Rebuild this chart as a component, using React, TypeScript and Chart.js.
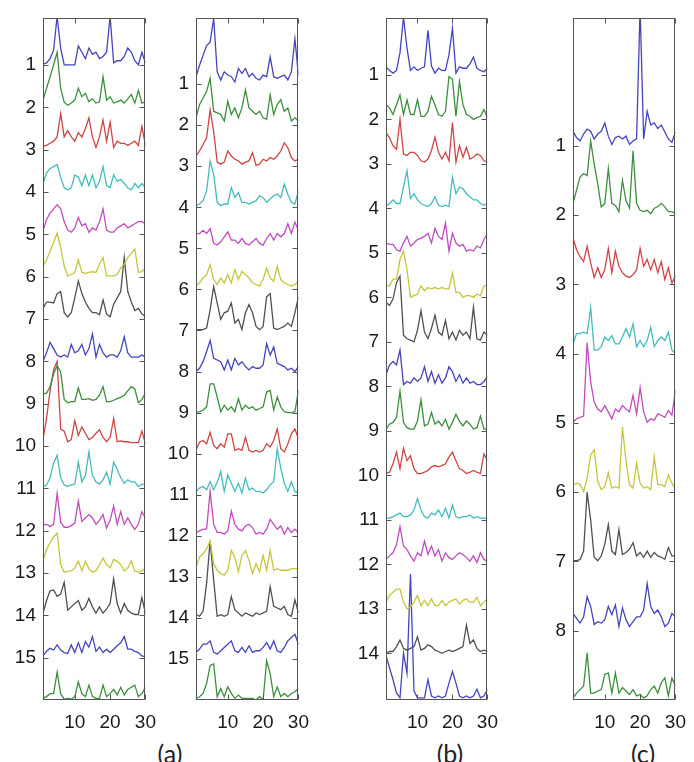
import React, { useEffect, useRef } from "react";
import { Chart, registerables } from "chart.js";

Chart.register(...registerables);

// ---------- data ----------
const xValues = [1, 2, 3, 4, 5, 6, 7, 8, 9, 10, 11, 12, 13, 14, 15, 16, 17, 18, 19, 20, 21, 22, 23, 24, 25, 26, 27, 28, 29, 30];
const xTickValues = [10, 20, 30];
const yTicksA = [1, 2, 3, 4, 5, 6, 7, 8, 9, 10, 11, 12, 13, 14, 15];
const yTicksB = [1, 2, 3, 4, 5, 6, 7, 8, 9, 10, 11, 12, 13, 14, 15];
const yTicksC = [1, 2, 3, 4, 5, 6, 7, 8, 9, 10, 11, 12, 13, 14];
const yTicksD = [1, 2, 3, 4, 5, 6, 7, 8];
const captions = ["(a)", "(b)", "(c)"];
const traceColors = ["#4545c0", "#3d8f3d", "#cf4545", "#45bcbc", "#c04cc0", "#c6c63c", "#505050"];

// amplitudes above each trace's baseline (baseline = row number)
const ampA: number[][] = [
  [0.02, 0.05, 0.15, 0.35, 1.15, 0.4, 0, 0, 0, 0, 0.45, 0.3, 0.15, 0.4, 0.25, 0.3, 0.15, 0.2, 0.3, 1.15, 0.05, 0.1, 0.1, 0.2, 0.4, 0.3, 0.1, 0, 0.3, 0.05],
  [0.17, 0.45, 0.72, 1.0, 1.3, 0.45, 0.12, 0.05, 0.1, 0.17, 0.45, 0.25, 0.33, 0.13, 0.2, 0.1, 0.13, 0.72, 0.17, 0.25, 0.1, 0.13, 0.17, 0.1, 0.2, 0.3, 0.1, 0.4, 0.1, 0.13],
  [0.08, 0.1, 0.15, 0.2, 0.3, 0.85, 0.3, 0.45, 0.3, 0.2, 0.4, 0.3, 0.5, 0.75, 0.3, 0.05, 0.3, 0.7, 0.2, 0.65, 0.05, 0.2, 0.15, 0.15, 0.1, 0.15, 0.2, 0.1, 0.55, 0.1],
  [0.2, 0.45, 0.55, 0.6, 0.65, 0.35, 0.1, 0.05, 0.1, 0.4, 0.35, 0.15, 0.4, 0.15, 0.4, 0.1, 0.25, 0.6, 0.15, 0.1, 0.4, 0.25, 0.3, 0.2, 0.1, 0.05, 0.2, 0.1, 0.2, 0.1],
  [0.08, 0.35, 0.5, 0.6, 0.7, 0.6, 0.3, 0.1, 0.05, 0.15, 0.4, 0.2, 0.25, 0.05, 0.15, 0.1, 0.3, 0.6, 0.1, 0.05, 0.05, 0.15, 0.2, 0.25, 0.15, 0.2, 0.25, 0.3, 0.3, 0.25],
  [0.25, 0.4, 0.6, 0.8, 1.03, 0.7, 0.25, 0.02, 0.05, 0.1, 0.4, 0.1, 0.08, 0.1, 0.12, 0.1, 0.3, 0.45, 0.02, 0.02, 0.02, 0.05, 0.2, 0.3, 0.45, 0.55, 0.65, 0.1, 0.12, 0.2],
  [0.25, 0.4, 0.4, 0.38, 0.6, 0.65, 0.15, 0.05, 0.15, 0.5, 0.9, 0.6, 0.4, 0.25, 0.15, 0.15, 0.1, 0.45, 0.12, 0.05, 0.35, 0.5, 0.65, 1.45, 0.65, 0.4, 0.2, 0.25, 0.12, 0.05],
  [0, 0.2, 0.45, 0.3, 0.15, 0.1, 0.15, 0.1, 0.4, 0.2, 0.25, 0.4, 0.15, 0.3, 0.65, 0.1, 0.4, 0.2, 0.1, 0.15, 0.15, 0.1, 0.25, 0.58, 0.2, 0.1, 0.1, 0.1, 0.15, 0.1],
  [0.23, 0.25, 0.4, 0.7, 0.9, 0.75, 0.1, 0.02, 0.05, 0.05, 0.37, 0.1, 0.1, 0.12, 0.08, 0.1, 0.2, 0.4, 0.05, 0.05, 0.08, 0.12, 0.15, 0.2, 0.3, 0.4, 0.35, 0.02, 0.1, 0.25],
  [0.15, 0.65, 1.3, 1.8, 2.0, 0.4, 0.35, 0.1, 0.15, 0.6, 0.25, 0.45, 0.3, 0.15, 0.2, 0.3, 0.38, 0.2, 0.1, 0.2, 0.65, 0.1, 0.12, 0.1, 0.1, 0.08, 0.08, 0.08, 0.35, 0.05],
  [0.04, 0.08, 0.25, 0.6, 0.78, 0.25, 0.08, 0.04, 0.08, 0.1, 0.62, 0.15, 0.3, 0.86, 0.3, 0.15, 0.1, 0.2, 0.38, 0.1, 0.62, 0.45, 0.25, 0.12, 0.2, 0.15, 0.15, 0.04, 0.1, 0.08],
  [0.14, 0.15, 0.1, 0.15, 0.88, 0.2, 0.08, 0.08, 0.12, 0.18, 0.7, 0.22, 0.3, 0.38, 0.3, 0.15, 0.25, 0.38, 0.06, 0.25, 0.58, 0.15, 0.45, 0.15, 0.3, 0.15, 0.03, 0.15, 0.45, 0.3],
  [0.3, 0.55, 0.72, 0.85, 0.94, 0.2, 0.02, 0.04, 0.05, 0.12, 0.28, 0.05, 0.28, 0.1, 0.02, 0.05, 0.2, 0.35, 0.2, 0.12, 0.32, 0.28, 0.2, 0.05, 0.12, 0.28, 0.04, 0.02, 0.05, 0.12],
  [0.05, 0.35, 0.58, 0.6, 0.45, 0.5, 0.78, 0.12, 0.2, 0.28, 0.35, 0.12, 0.2, 0.4, 0.2, 0.05, 0.2, 0.05, 0.15, 0.28, 0.86, 0.28, 0.05, 0.28, 0.12, 0.05, 0.02, 0.02, 0.42, 0.05],
  [0.04, 0.15, 0.22, 0.18, 0.3, 0.18, 0.12, 0.1, 0.3, 0.12, 0.35, 0.12, 0.38, 0.25, 0.5, 0.15, 0.25, 0.12, 0.2, 0.12, 0.2, 0.28, 0.35, 0.5, 0.2, 0.2, 0.15, 0.12, 0.04, 0.02],
  [0.04, 0.08, 0.15, 0.15, 0.66, 0.15, 0.02, 0.04, 0.02, 0.08, 0.43, 0.15, 0.08, 0.35, 0.08, 0.04, 0.04, 0.35, 0.08, 0.15, 0.25, 0.12, 0.3, 0.12, 0.25, 0.3, 0.35, 0.08, 0.15, 0.3],
];

const ampB: number[][] = [
  [0.18, 0.46, 0.7, 0.94, 1.02, 1.6, 0.3, 0.1, 0.3, 0.22, 0.18, 0.05, 0.38, 0.26, 0.38, 0.18, 0.26, 0.14, 0.1, 0.22, 0.18, 0.66, 0.18, 0.14, 0.18, 0.22, 0.1, 0.3, 1.1, 0.22],
  [0.18, 0.5, 0.66, 0.82, 1.14, 0.34, 0.3, 0.26, 0.1, 0.58, 0.26, 0.42, 0.18, 0.42, 0.86, 0.42, 0.34, 0.26, 0.34, 0.18, 0.14, 0.74, 0.26, 0.5, 0.62, 0.34, 0.42, 0.1, 0.18, 0.1],
  [0.25, 0.37, 0.53, 0.69, 1.37, 0.85, 0.1, 0.05, 0.1, 0.37, 0.25, 0.17, 0.13, 0.05, 0.1, 0.13, 0.33, 0.02, 0.05, 0.17, 0.13, 0.21, 0.17, 0.25, 0.37, 0.57, 0.45, 0.21, 0.13, 0.17],
  [0.04, 0.08, 0.16, 0.4, 1.12, 0.8, 0.12, 0.04, 0.08, 0.08, 0.48, 0.24, 0.36, 0.12, 0.12, 0.08, 0.12, 0.16, 0.28, 0.24, 0.12, 0.2, 0.28, 0.32, 0.24, 0.56, 0.32, 0.12, 0.08, 0.4],
  [0.36, 0.36, 0.44, 0.36, 0.48, 0.12, 0.08, 0.16, 0.28, 0.4, 0.2, 0.2, 0.12, 0.24, 0.12, 0.08, 0.16, 0.24, 0.12, 0.08, 0.24, 0.36, 0.2, 0.36, 0.28, 0.36, 0.6, 0.36, 0.64, 0.44],
  [0.08, 0.16, 0.28, 0.36, 0.6, 0.24, 0.12, 0.28, 0.16, 0.36, 0.16, 0.48, 0.24, 0.44, 0.36, 0.28, 0.16, 0.12, 0.08, 0.24, 0.52, 0.28, 0.2, 0.56, 0.24, 0.16, 0.12, 0.08, 0.12, 0.2],
  [0.02, 0.02, 0.02, 0.06, 0.5, 1.07, 0.67, 0.27, 0.43, 0.47, 0.67, 0.18, 0.27, 0.02, 0.43, 0.63, 0.43, 0.1, 0.02, 0.1, 0.82, 0.9, 0.06, 0.02, 0.06, 0.1, 0.18, 0.1, 0.43, 0.82],
  [0, 0.08, 0.24, 0.48, 0.76, 0.32, 0.28, 0.24, 0.04, 0.28, 0.04, 0.32, 0.16, 0.24, 0.12, 0.04, 0.12, 0.08, 0.08, 0.16, 0.68, 0.4, 0.6, 0.2, 0.16, 0.12, 0.04, 0.08, 0, 0.12],
  [0, 0.02, 0.06, 0.14, 0.7, 0.7, 0.38, 0.02, 0.18, 0.06, 0.14, 0.02, 0.34, 0.06, 0.18, 0.1, 0.14, 0.06, 0.1, 0.14, 0.5, 0.54, 0.06, 0.38, 0.14, 0.02, 0, 0, 0.02, 0.54],
  [0.08, 0.28, 0.32, 0.24, 0.52, 0.2, 0.12, 0.24, 0.16, 0.48, 0.48, 0.08, 0.12, 0.08, 0.4, 0.08, 0.04, 0.08, 0.04, 0.08, 0.24, 0.16, 0.32, 0.6, 0.12, 0.04, 0.24, 0.48, 0.6, 0.36],
  [0.08, 0.16, 0.2, 0.12, 0.32, 0.12, 0.3, 0.56, 0.08, 0.48, 0.28, 0.08, 0.28, 0.04, 0.4, 0.12, 0.16, 0.08, 0.08, 0.04, 0.12, 0.24, 0.32, 1.12, 0.64, 0.28, 0.08, 0.32, 0.08, 0.04],
  [0.08, 0.12, 0.16, 0.16, 1.08, 0.28, 0.08, 0.08, 0.04, 0.12, 0.6, 0.28, 0.16, 0.12, 0.24, 0.28, 0.2, 0.04, 0.08, 0.04, 0.16, 0.4, 0.28, 0.16, 0.24, 0.04, 0.2, 0.08, 0.16, 0.08],
  [0.24, 0.48, 0.56, 0.68, 0.88, 0.32, 0.16, 0.08, 0.04, 0.16, 0.64, 0.48, 0.12, 0.52, 0.64, 0.4, 0.08, 0.32, 0.12, 0.52, 0.16, 0.64, 0.16, 0.2, 0.16, 0.16, 0.16, 0.2, 0.2, 0.2],
  [0.08, 0.04, 0.16, 0.84, 1.88, 0.92, 0.04, 0.08, 0.04, 0.08, 0.52, 0.2, 0.12, 0.04, 0.12, 0.08, 0.04, 0.12, 0.08, 0.12, 0.16, 0.76, 0.28, 0.24, 0.2, 0.28, 0.08, 0.04, 0.44, 0.12],
  [0.16, 0.24, 0.36, 0.36, 0.44, 0.16, 0.12, 0.2, 0.28, 0.36, 0.44, 0.2, 0.16, 0.28, 0.16, 0.32, 0.16, 0.2, 0.2, 0.28, 0.4, 0.24, 0.44, 0.2, 0.16, 0.28, 0.44, 0.52, 0.6, 0.36],
  [0.04, 0.08, 0.16, 0.4, 0.84, 0.88, 0.08, 0.28, 0.08, 0.32, 0.16, 0.04, 0.12, 0.04, 0.04, 0.04, 0.04, 0, 0.08, 0, 0.96, 0.64, 0.08, 0.32, 0.08, 0.16, 0.08, 0.16, 0.2, 0.28],
];

const ampC: number[][] = [
  [0.18, 0.1, 0.04, 0.1, 0.5, 1.3, 0.6, 0.1, 0.18, 0.1, 0.15, 0.18, 1.0, 0.2, 0.04, 0.15, 0.1, 0.1, 0.45, 1.05, 0.04, 0.18, 0.15, 0.15, 0.25, 0.4, 0.15, 0.1, 0.07, 0.15],
  [0.33, 0.26, 0.11, 0.33, 0.55, 0.11, 0.44, 0.11, 0.11, 0.44, 0.07, 0.07, 0.18, 0.52, 0.33, 0.11, 0.07, 0.18, 0.96, 0.9, 0.07, 0.85, 0.33, 0.11, 0.07, 0, 0.04, 0.07, 0.22, 0.04],
  [0.7, 0.59, 0.41, 0.33, 1.0, 0.22, 0.19, 0.26, 0.26, 0.19, 0.07, 0.04, 0.11, 0.3, 0.6, 0.26, 0.11, 0.26, 0.07, 0.93, 0.04, 0.41, 0.15, 0.37, 0.11, 0.15, 0.22, 0.19, 0.07, 0.04],
  [0.04, 0.11, 0.19, 0.11, 0.11, 0.48, 0.85, 0.22, 0.33, 0.19, 0.11, 0.07, 0.04, 0.11, 0.26, 0.07, 0.04, 0.07, 0.04, 0.7, 0.33, 0.48, 0.44, 0.33, 0.26, 0.19, 0.19, 0.11, 0.07, 0.11],
  [0.22, 0.19, 0.19, 0.07, 0.04, 0.22, 0.37, 0.15, 0.22, 0.3, 0.33, 0.37, 0.44, 0.22, 0.55, 0.37, 0.3, 0.67, 0.04, 0.44, 0.22, 0.15, 0.19, 0.04, 0.07, 0.04, 0.15, 0.11, 0.3, 0.44],
  [0.26, 0.26, 0.41, 0.41, 0.85, 1.04, 0.63, 0, 0.04, 0.07, 0.26, 0.15, 0.22, 0.19, 0.22, 0.19, 0.22, 0.19, 0.19, 0.55, 0.11, 0.11, 0, 0.04, 0.04, 0, 0.07, 0.04, 0.26, 0.26],
  [0.89, 0.82, 0.96, 1.33, 1.48, 0.15, 0.07, 0.04, 0, 0.26, 0.7, 0.22, 0.07, 0.3, 0.6, 0.22, 0.15, 0.48, 0.07, 0.22, 0.04, 0.26, 0.15, 0.22, 0.07, 0.78, 0.07, 0.04, 0.22, 0.15],
  [0.26, 0.48, 0.56, 0.48, 0.82, 0.04, 0.11, 0.07, 0.19, 0.11, 0.19, 0.44, 0.11, 0.33, 0.07, 0.26, 0.07, 0.19, 0.44, 0.33, 0.11, 0.26, 0.07, 0.19, 0.07, 0.11, 0.04, 0.04, 0.11, 0.22],
  [0.04, 0.15, 0.19, 0.3, 0.89, 0.19, 0.07, 0.04, 0.04, 0.22, 0.7, 0.11, 0.15, 0.41, 0.15, 0.22, 0.11, 0.26, 0.04, 0.19, 0.37, 0.22, 0.11, 0.22, 0.15, 0.04, 0.07, 0.33, 0.04, 0.04],
  [0.04, 0.07, 0.26, 0.52, 0.15, 0.61, 0.33, 0.44, 0.15, 0.04, 0.04, 0.07, 0.11, 0.19, 0.22, 0.19, 0.22, 0.26, 0.41, 0.52, 0.33, 0.15, 0.11, 0.04, 0.07, 0.11, 0.07, 0.04, 0.48, 0.33],
  [0.04, 0.04, 0.07, 0.11, 0.15, 0.07, 0.07, 0.11, 0.22, 0.48, 0.22, 0.07, 0.04, 0.15, 0.11, 0.22, 0.07, 0.26, 0.04, 0.33, 0.07, 0.04, 0.07, 0.07, 0.11, 0.04, 0.07, 0.04, 0.04, 0.04],
  [0.11, 0.19, 0.26, 0.44, 0.85, 0.41, 0.33, 0.19, 0.07, 0.26, 0.19, 0.52, 0.22, 0.41, 0.19, 0.33, 0.07, 0.26, 0.15, 0.11, 0.19, 0.26, 0.22, 0.15, 0.07, 0.19, 0.04, 0.26, 0.11, 0.07],
  [0.15, 0.3, 0.37, 0.44, 0.44, 0.15, 0, 0.04, 0.15, 0.3, 0.07, 0.19, 0.07, 0.22, 0.07, 0.07, 0.19, 0.07, 0.15, 0.19, 0.22, 0.11, 0.19, 0.22, 0.15, 0.15, 0.26, 0.07, 0.15, 0.22],
  [0, 0.04, 0.04, 0.15, 0.3, 0.11, 0.07, 0.11, 0.15, 0.37, 0.07, 0.11, 0.19, 0.15, 0.07, 0.04, 0, 0.04, 0.07, 0.04, 0.07, 0.11, 0.15, 0.63, 0.22, 0.3, 0.11, 0.04, 0.07, 0.04],
  [0.96, 0.67, 0.41, 0.11, 0, 1.0, 0.55, 2.78, 0.15, 0, 0, 0, 0.41, 0.04, 0, 0.04, 0, 0.04, 0.33, 0.59, 0.33, 0.04, 0, 0.04, 0, 0.04, 0.19, 0, 0.04, 0.19],
];

const ampD: number[][] = [
  [0.21, 0.12, 0.07, 0.17, 0.24, 0.21, 0.1, 0.17, 0.21, 0.33, 0.14, 0.02, 0.12, 0.14, 0.1, 0.14, 0.02, 0.07, 0.1, 2.0, 0.1, 0.5, 0.3, 0.33, 0.25, 0.3, 0.2, 0.1, 0.05, 0.2],
  [0.17, 0.36, 0.55, 0.6, 0.57, 1.07, 0.74, 0.45, 0.12, 0.17, 0.67, 0.17, 0.14, 0.05, 0.5, 0.21, 0.1, 0.93, 0.17, 0.07, 0.05, 0.07, 0.02, 0.1, 0.12, 0.17, 0.12, 0.05, 0.05, 0.02],
  [0.67, 0.5, 0.4, 0.33, 0.55, 0.31, 0.1, 0.24, 0.1, 0.21, 0.52, 0.17, 0.48, 0.26, 0.17, 0.12, 0.1, 0.14, 0.21, 0.52, 0.26, 0.36, 0.21, 0.36, 0.17, 0.33, 0.07, 0.24, 0.02, 0.12],
  [0.14, 0.29, 0.29, 0.31, 0.29, 0.67, 0.05, 0.05, 0.1, 0.24, 0.19, 0.26, 0.14, 0.14, 0.24, 0.36, 0.24, 0.43, 0.1, 0.19, 0.1, 0.19, 0.38, 0.1, 0.19, 0.24, 0.19, 0.31, 0.05, 0],
  [0.01, 0.06, 0.08, 0.1, 1.16, 0.59, 0.3, 0.2, 0.16, 0.25, 0.16, 0.06, 0.2, 0.16, 0.25, 0.2, 0.16, 0.4, 0.13, 0.51, 0.16, 0.01, 0.06, 0.04, 0.13, 0.11, 0.08, 0.18, 0.11, 0.47],
  [0.11, 0.13, 0.11, 0.01, 0.2, 0.54, 0.61, 0.16, 0.04, 0.08, 0.28, 0.06, 0.08, 0.06, 0.94, 0.45, 0.11, 0.06, 0.42, 0.13, 0.06, 0.08, 0.04, 0.51, 0.11, 0.11, 0.08, 0.25, 0.13, 0.04],
  [0.01, 0.01, 0.03, 0.15, 1.0, 0.6, 0.06, 0.01, 0.08, 0.25, 0.53, 0.15, 0.1, 0.46, 0.1, 0.13, 0.18, 0.27, 0.08, 0.13, 0.06, 0.15, 0.06, 0.13, 0.08, 0.06, 0.03, 0.2, 0.08, 0.08],
  [0.25, 0.18, 0.11, 0.2, 0.49, 0.35, 0.09, 0.13, 0.11, 0.16, 0.35, 0.23, 0.37, 0.06, 0.33, 0.16, 0.06, 0.13, 0.2, 0.2, 0.3, 0.68, 0.35, 0.25, 0.3, 0.2, 0.06, 0.11, 0.25, 0.2],
  [0.03, 0.1, 0.15, 0.2, 0.68, 0.1, 0.1, 0.13, 0.15, 0.37, 0.39, 0.1, 0.39, 0.1, 0.18, 0.13, 0.08, 0.15, 0.06, 0.08, 0.03, 0.06, 0.15, 0.2, 0.1, 0.25, 0.32, 0.06, 0.32, 0.2],
];

// ---------- layout ----------
const TICK_FONT = { family: "'Liberation Sans', Arial, sans-serif", size: 19 };
const Y_AXIS_W = 40;
const X_AXIS_H = 30;
const PAD_TOP = 13;
const PAD_RIGHT = 14;
const CANVAS_H = 730;

type PanelSpec = { left: number; right: number; yMin: number; yMax: number; rows: number[][]; ticks: number[] };

const panels: PanelSpec[] = [
  { left: 43, right: 153, yMin: -0.1, yMax: 16, rows: ampA, ticks: yTicksA },
  { left: 196, right: 306, yMin: -0.6, yMax: 16, rows: ampB, ticks: yTicksB },
  { left: 386, right: 495, yMin: -0.27, yMax: 15.05, rows: ampC, ticks: yTicksC },
  { left: 573, right: 683, yMin: -0.84, yMax: 9.0, rows: ampD, ticks: yTicksD },
];

const captionPos = [
  { x: 170, y: 753 },
  { x: 450, y: 753 },
  { x: 643, y: 753 },
];

const framePlugin = {
  id: "matlabFrame",
  afterDraw(chart: any) {
    const { ctx, chartArea, scales } = chart;
    const { left, right, top, bottom } = chartArea;
    const L = 5;
    ctx.save();
    ctx.strokeStyle = "#555";
    ctx.lineWidth = 1;
    const l = Math.round(left) + 0.5;
    const r = Math.round(right) - 0.5;
    const t = Math.round(top) + 0.5;
    const b = Math.round(bottom) - 0.5;
    ctx.strokeRect(l, t, r - l, b - t);
    ctx.beginPath();
    scales.y.ticks.forEach((tk: any) => {
      const y = Math.round(scales.y.getPixelForValue(tk.value)) + 0.5;
      ctx.moveTo(l, y);
      ctx.lineTo(l + L, y);
      ctx.moveTo(r, y);
      ctx.lineTo(r - L, y);
    });
    scales.x.ticks.forEach((tk: any) => {
      const x = Math.round(scales.x.getPixelForValue(tk.value)) + 0.5;
      ctx.moveTo(x, t);
      ctx.lineTo(x, t + L);
      ctx.moveTo(x, b);
      ctx.lineTo(x, b - L);
    });
    ctx.stroke();
    ctx.restore();
  },
};

function Panel({ spec }: { spec: PanelSpec }) {
  const ref = useRef<HTMLCanvasElement | null>(null);
  const width = spec.right - spec.left + Y_AXIS_W + PAD_RIGHT;
  useEffect(() => {
    if (!ref.current) return;
    const datasets = spec.rows.map((amps, i) => ({
      data: amps.map((a, j) => ({ x: xValues[j], y: i + 1 - a })),
      borderColor: traceColors[i % traceColors.length],
      borderWidth: 1.3,
      pointRadius: 0,
      tension: 0,
      fill: false,
    }));
    const chart = new Chart(ref.current, {
      type: "line",
      data: { datasets },
      options: {
        animation: false,
        responsive: false,
        maintainAspectRatio: false,
        layout: { padding: { left: 0, right: PAD_RIGHT, top: PAD_TOP, bottom: 0 } },
        plugins: { legend: { display: false }, tooltip: { enabled: false } },
        scales: {
          x: {
            type: "linear",
            min: 1,
            max: 30,
            grid: { display: false, drawTicks: false },
            border: { display: false },
            afterBuildTicks: (s: any) => {
              s.ticks = xTickValues.map((v) => ({ value: v }));
            },
            afterFit: (s: any) => {
              s.height = X_AXIS_H;
            },
            ticks: { padding: 11, font: TICK_FONT, color: "#1a1a1a", maxRotation: 0, autoSkip: false },
          },
          y: {
            type: "linear",
            reverse: true,
            min: spec.yMin,
            max: spec.yMax,
            grid: { display: false, drawTicks: false },
            border: { display: false },
            afterBuildTicks: (s: any) => {
              s.ticks = spec.ticks.map((v) => ({ value: v }));
            },
            afterFit: (s: any) => {
              s.width = Y_AXIS_W;
            },
            ticks: { padding: 7, font: TICK_FONT, color: "#1a1a1a", autoSkip: false },
          },
        },
      },
      plugins: [framePlugin],
    } as any);
    return () => chart.destroy();
  }, [spec]);
  return (
    <canvas
      ref={ref}
      width={width}
      height={CANVAS_H}
      style={{ position: "absolute", left: spec.left - Y_AXIS_W, top: 0, width, height: CANVAS_H }}
    />
  );
}

export default function App() {
  return (
    <div
      style={{
        position: "absolute",
        left: 0,
        top: 0,
        width: 694,
        height: 762,
        overflow: "hidden",
        background: "#fff",
      }}
    >
      {panels.map((p, i) => (
        <Panel key={i} spec={p} />
      ))}
      {captions.map((c, i) => (
        <div
          key={c}
          style={{
            position: "absolute",
            left: captionPos[i].x - 50,
            top: captionPos[i].y - 16,
            width: 100,
            height: 32,
            lineHeight: "32px",
            textAlign: "center",
            fontFamily: "Lato, 'Open Sans', sans-serif",
            fontSize: 25,
            color: "#222",
          }}
        >
          {c}
        </div>
      ))}
    </div>
  );
}
